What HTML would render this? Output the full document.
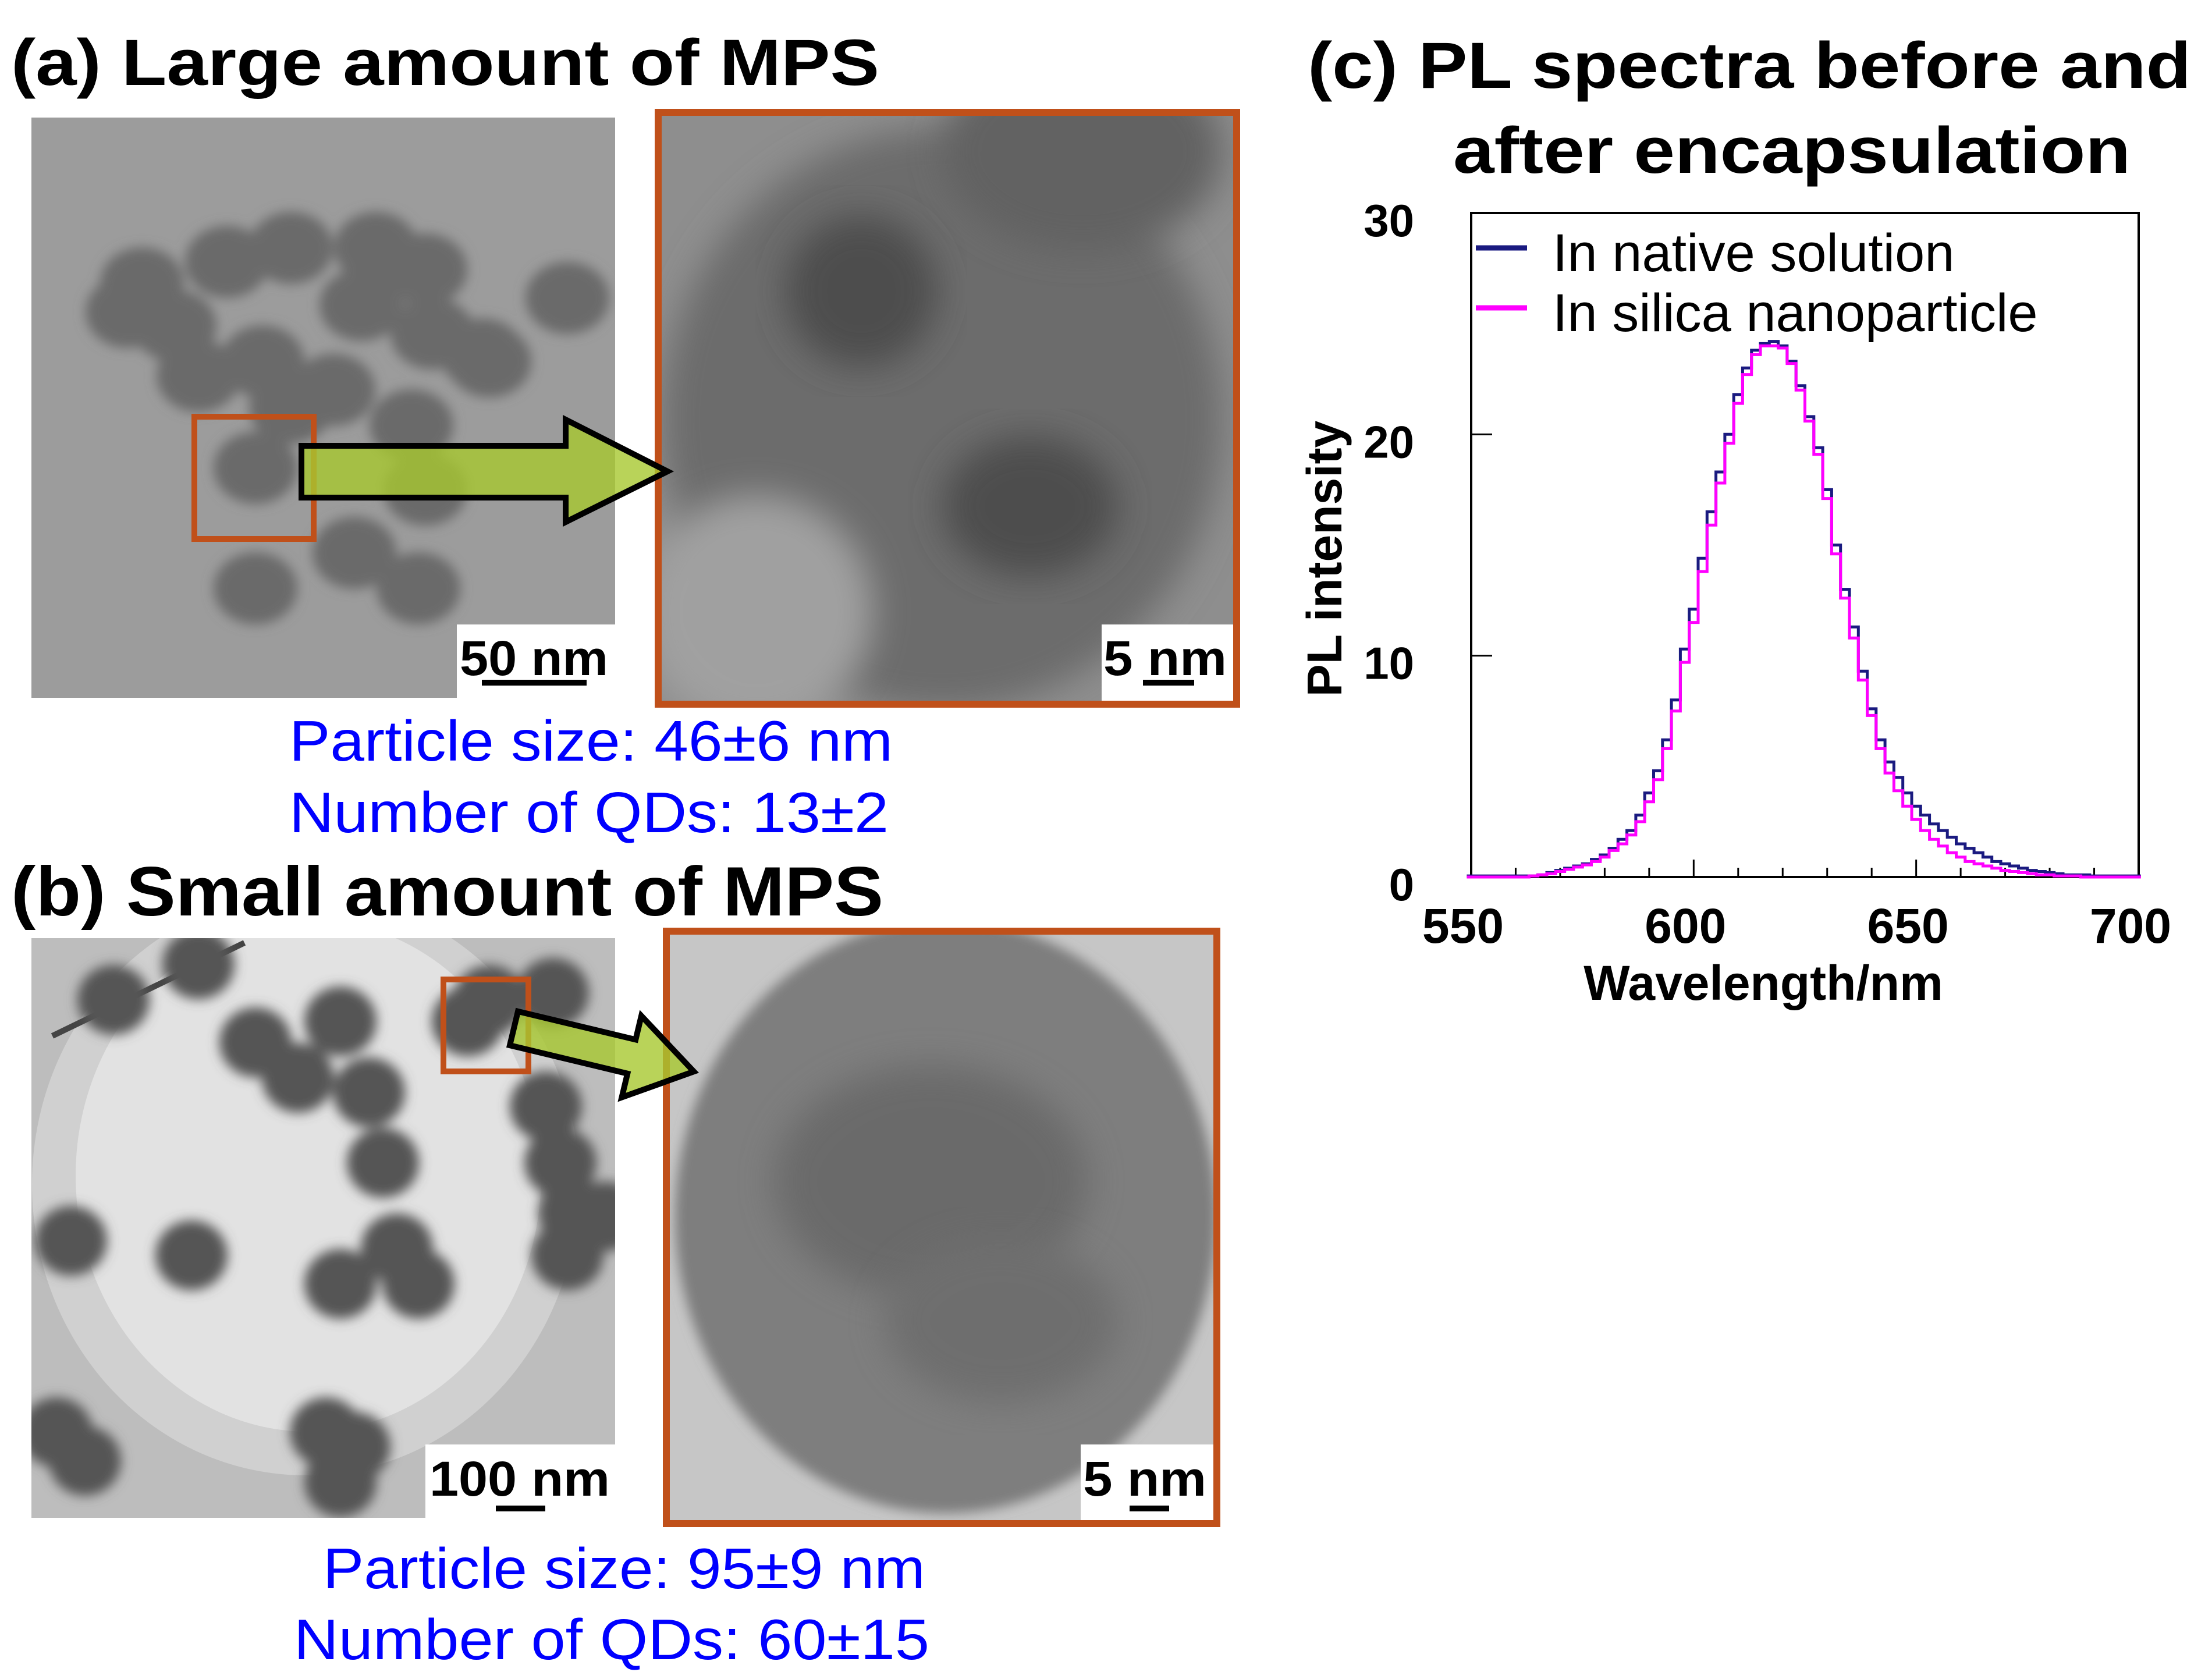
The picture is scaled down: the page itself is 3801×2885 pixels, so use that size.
<!DOCTYPE html>
<html><head><meta charset="utf-8"><style>
html,body{margin:0;padding:0;background:#fff}
svg{display:block}
text{font-family:"Liberation Sans",Arial,sans-serif}
</style></head><body>
<svg id="root" width="3801" height="2885" viewBox="0 0 3801 2885" xmlns="http://www.w3.org/2000/svg">
<defs>
<filter id="soft" x="-20%" y="-20%" width="140%" height="140%"><feGaussianBlur stdDeviation="10"/></filter>
<filter id="soft2" x="-20%" y="-20%" width="140%" height="140%"><feGaussianBlur stdDeviation="30"/></filter>
<clipPath id="ca1"><rect x="54" y="202" width="1003" height="997"/></clipPath>
<clipPath id="ca2"><rect x="1131" y="193" width="994" height="1017"/></clipPath>
<clipPath id="cb1"><rect x="54" y="1612" width="1003" height="996"/></clipPath>
<clipPath id="cb2"><rect x="1145" y="1600" width="946" height="1018"/></clipPath>
</defs>

<text x="19" y="146" font-size="112" font-weight="bold" textLength="1492" lengthAdjust="spacingAndGlyphs">(a) Large amount of MPS</text>
<text x="19" y="1573" font-size="120" font-weight="bold" textLength="1499" lengthAdjust="spacingAndGlyphs">(b) Small amount of MPS</text>
<text x="2247" y="151" font-size="112" font-weight="bold" textLength="1518" lengthAdjust="spacingAndGlyphs">(c) PL spectra before and</text>
<text x="2497" y="297" font-size="112" font-weight="bold" textLength="1164" lengthAdjust="spacingAndGlyphs">after encapsulation</text>

<g clip-path="url(#ca1)">
<rect x="54" y="202" width="1003" height="997" fill="#9c9c9c"/>
<g id="blobsA" fill="#6a6a6a" filter="url(#soft)"></g>
</g>
<g clip-path="url(#ca2)">
<rect x="1131" y="193" width="994" height="1017" fill="#8e8e8e"/>
<ellipse cx="1620" cy="720" rx="480" ry="500" fill="#6c6c6c" filter="url(#soft2)"/>
<ellipse cx="1860" cy="260" rx="240" ry="170" fill="#626262" filter="url(#soft2)"/>
<ellipse cx="1480" cy="500" rx="130" ry="130" fill="#4e4e4e" filter="url(#soft2)"/>
<ellipse cx="1770" cy="870" rx="150" ry="120" fill="#4e4e4e" filter="url(#soft2)"/>
<ellipse cx="1300" cy="1050" rx="200" ry="200" fill="#a0a0a0" filter="url(#soft2)"/>
</g>
<rect x="1131" y="193" width="994" height="1017" fill="none" stroke="#c0501a" stroke-width="12"/>
<rect x="334" y="716" width="205" height="210" fill="none" stroke="#c0501a" stroke-width="10"/>
<polygon points="518,766 972,766 972,721 1147,810 972,897 972,855 518,855" fill="#a8c830" fill-opacity="0.8" stroke="#000" stroke-width="10"/>
<g>
<rect x="785" y="1073" width="272" height="126" fill="#fff"/>
<text x="790" y="1160" font-size="84" font-weight="bold" textLength="255" lengthAdjust="spacingAndGlyphs">50 nm</text>
<rect x="828" y="1168" width="180" height="10" fill="#000"/>
</g>
<g>
<rect x="1893" y="1073" width="226" height="131" fill="#fff"/>
<text x="1896" y="1160" font-size="84" font-weight="bold" textLength="212" lengthAdjust="spacingAndGlyphs">5 nm</text>
<rect x="1964" y="1168" width="88" height="10" fill="#000"/>
</g>
<text x="497" y="1307" font-size="98" fill="#0000ff" textLength="1037" lengthAdjust="spacingAndGlyphs">Particle size: 46±6 nm</text>
<text x="497" y="1430" font-size="98" fill="#0000ff" textLength="1030" lengthAdjust="spacingAndGlyphs">Number of QDs: 13±2</text>

<g clip-path="url(#cb1)">
<rect x="54" y="1612" width="1003" height="996" fill="#bdbdbd"/>
<ellipse cx="525" cy="2035" rx="470" ry="500" fill="#d0d0d0"/>
<ellipse cx="530" cy="2020" rx="400" ry="440" fill="#e2e2e2"/>
<line x1="90" y1="1780" x2="420" y2="1620" stroke="#444" stroke-width="10"/>
<g id="blobsB" fill="#555" filter="url(#soft)"></g>
</g>
<g clip-path="url(#cb2)">
<rect x="1145" y="1600" width="946" height="1018" fill="#c6c6c6"/>
<ellipse cx="1625" cy="2090" rx="465" ry="510" fill="#7e7e7e" filter="url(#soft)"/>
<ellipse cx="1600" cy="2030" rx="270" ry="200" fill="#6a6a6a" filter="url(#soft2)"/>
<ellipse cx="1720" cy="2270" rx="200" ry="140" fill="#6e6e6e" filter="url(#soft2)"/>
</g>
<rect x="1145" y="1600" width="946" height="1018" fill="none" stroke="#c0501a" stroke-width="12"/>
<rect x="762" y="1683" width="146" height="158" fill="none" stroke="#c0501a" stroke-width="10"/>
<g transform="translate(883,1767) rotate(13.5)">
<polygon points="0,-30 208,-30 208,-72 318,0 208,72 208,30 0,30" fill="#a8c830" fill-opacity="0.8" stroke="#000" stroke-width="10"/>
</g>
<g>
<rect x="731" y="2482" width="326" height="126" fill="#fff"/>
<text x="738" y="2570" font-size="84" font-weight="bold" textLength="310" lengthAdjust="spacingAndGlyphs">100 nm</text>
<rect x="852" y="2587" width="85" height="10" fill="#000"/>
</g>
<g>
<rect x="1857" y="2482" width="228" height="130" fill="#fff"/>
<text x="1861" y="2570" font-size="84" font-weight="bold" textLength="212" lengthAdjust="spacingAndGlyphs">5 nm</text>
<rect x="1941" y="2587" width="68" height="10" fill="#000"/>
</g>
<text x="555" y="2729" font-size="98" fill="#0000ff" textLength="1035" lengthAdjust="spacingAndGlyphs">Particle size: 95±9 nm</text>
<text x="505" y="2851" font-size="98" fill="#0000ff" textLength="1092" lengthAdjust="spacingAndGlyphs">Number of QDs: 60±15</text>

<g id="chart"></g>
</svg>
<script>
const wavelengths = [];
for (let w = 550; w <= 700; w += 2) wavelengths.push(w);
const nativeValues = [0.05,0.05,0.05,0.05,0.05,0.05,0.05,0.05,0.1,0.2,0.3,0.4,0.5,0.6,0.8,1.0,1.3,1.7,2.1,2.8,3.8,4.8,6.2,8.0,10.3,12.1,14.4,16.5,18.3,20.0,21.8,23.0,23.8,24.1,24.2,24.0,23.3,22.2,20.8,19.4,17.5,15.0,13.0,11.3,9.3,7.6,6.2,5.2,4.5,3.8,3.2,2.8,2.4,2.1,1.8,1.5,1.3,1.1,0.9,0.7,0.6,0.5,0.4,0.3,0.25,0.2,0.15,0.1,0.1,0.1,0.05,0.05,0.05,0.05,0.05,0.05];
const silicaValues = [0.0,0.0,0.0,0.0,0.0,0.0,0.0,0.05,0.1,0.15,0.25,0.35,0.45,0.55,0.7,0.9,1.2,1.5,1.9,2.5,3.4,4.4,5.8,7.5,9.7,11.5,13.8,15.9,17.8,19.6,21.4,22.7,23.6,24.0,24.0,23.9,23.2,22.0,20.6,19.1,17.1,14.6,12.6,10.8,8.9,7.3,5.8,4.7,3.9,3.2,2.6,2.1,1.7,1.4,1.1,0.9,0.7,0.6,0.5,0.4,0.3,0.25,0.2,0.15,0.1,0.1,0.05,0.05,0.05,0.0,0.0,0.0,0.0,0.0,0.0,0.0];
const xTicks = [550,600,650,700];
const yTicks = [0,10,20,30];
const seriesNames = ["In native solution","In silica nanoparticle"];

const NS = "http://www.w3.org/2000/svg";
const L = 2528, R = 3675, T = 366, B = 1507;
const xs = w => L + (w - 550) / 150 * (R - L);
const ys = v => B - v / 30 * (B - T);
const chart = document.getElementById('chart');
function mk(tag, attrs, parent) { const e = document.createElementNS(NS, tag); for (const k in attrs) e.setAttribute(k, attrs[k]); (parent || chart).appendChild(e); return e; }

const frame = mk('rect', {x: L, y: T, width: R - L, height: B - T, fill: 'none', stroke: '#000', 'stroke-width': 4});



for (let w = 560; w < 700; w += 10) {
  const big = w % 50 === 0;
  const t = mk('line', {x1: xs(w), x2: xs(w), y1: B, y2: B - (big ? 30 : 16), stroke: '#000', 'stroke-width': 3});
  
  
}
yTicks.forEach(v => {
  if (v > 0 && v < 30) {
    const t = mk('line', {x1: L, x2: L + 36, y1: ys(v), y2: ys(v), stroke: '#000', 'stroke-width': 3});
    
    
  }
  const lab = mk('text', {x: 2430, y: ys(v) + 40, 'font-size': 78, 'font-weight': 'bold', 'text-anchor': 'end'});
  lab.textContent = v;
  
  
});
xTicks.forEach(w => {
  const lab = mk('text', {x: xs(w) - 14, y: 1620, 'font-size': 84, 'font-weight': 'bold', 'text-anchor': 'middle'});
  lab.textContent = w;
  
  
});
const xt = mk('text', {x: 3030, y: 1718, 'font-size': 84, 'font-weight': 'bold', 'text-anchor': 'middle'});
xt.textContent = 'Wavelength/nm';


const yt = mk('text', {x: 0, y: 0, 'font-size': 84, 'font-weight': 'bold', 'text-anchor': 'middle', transform: 'translate(2305,960) rotate(-90)'});
yt.textContent = 'PL intensity';



function stepPath(vals) {
  let d = '';
  vals.forEach((v, i) => {
    const x0 = xs(wavelengths[i] - 1), x1 = xs(Math.min(wavelengths[i] + 1, 700.5));
    d += (i === 0 ? 'M' : 'L') + x0.toFixed(1) + ',' + ys(v).toFixed(1) + 'L' + x1.toFixed(1) + ',' + ys(v).toFixed(1);
  });
  return d;
}
const colors = ['#1a1a80', '#ff00ff'];
[nativeValues, silicaValues].forEach((vals, k) => {
  const p = mk('path', {d: stepPath(vals), fill: 'none', stroke: colors[k], 'stroke-width': 5});
  
  
});
seriesNames.forEach((n, k) => {
  const y = 426 + k * 103;
  const ln = mk('line', {x1: 2536, x2: 2624, y1: y, y2: y, stroke: colors[k], 'stroke-width': 9});
  
  
  const tx = mk('text', {x: 2668, y: y + 40, 'font-size': 92});
  tx.textContent = n;
  
  
});

const blobsA = [[244,487],[390,450],[500,426],[646,426],[731,463],[621,524],[743,573],[975,512],[219,536],[341,646],[451,621],[573,670],[707,731],[841,621],[439,804],[609,950],[719,1011],[439,1011],[731,841],[829,609],[300,560],[500,700]];
const ga = document.getElementById('blobsA');
blobsA.forEach(b => {
  const e = mk('ellipse', {cx: b[0], cy: b[1], rx: 72, ry: 62}, ga);
  
  
});
const blobsB = [[195,1718],[341,1657],[439,1791],[585,1755],[634,1877],[512,1852],[804,1755],[841,1718],[950,1706],[658,1998],[682,2145],[585,2206],[719,2206],[329,2157],[122,2132],[963,1998],[987,2084],[975,2157],[938,1901],[560,2461],[609,2486],[585,2547],[97,2461],[146,2510],[1040,2090]];
const gb = document.getElementById('blobsB');
blobsB.forEach(b => {
  const e = mk('ellipse', {cx: b[0], cy: b[1], rx: 62, ry: 60}, gb);
  
  
});
</script>
</body></html>
